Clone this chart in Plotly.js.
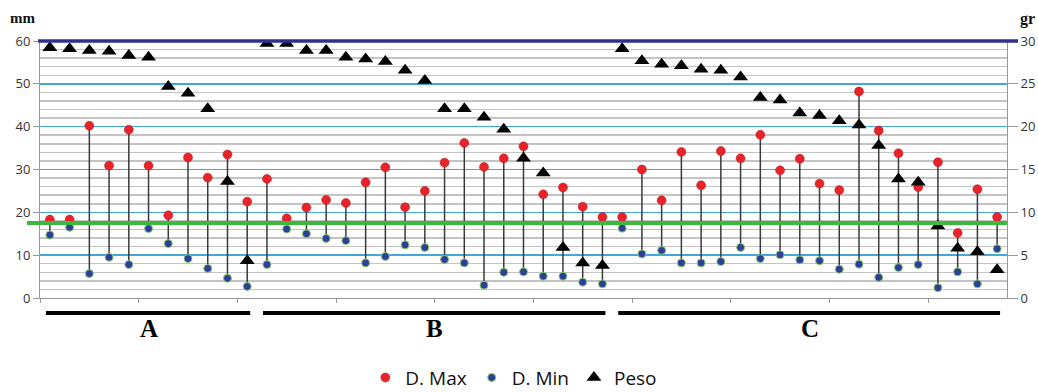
<!DOCTYPE html>
<html>
<head>
<meta charset="utf-8">
<script src="https://cdn.plot.ly/plotly-3.0.1.min.js"></script>
<style>
  html, body { margin: 0; padding: 0; background: #fff; }
  #chart { width: 1038px; height: 392px; }
</style>
</head>
<body>
<div id="chart"></div>
<script>
// ---- data ----
const groups = ['A', 'B', 'C'];
const groupSizes = [11, 18, 20];

// D. Max (mm)
const dMax = [
  18.3, 18.3, 40.2, 30.9, 39.3, 30.9, 19.3, 32.8, 28.1, 33.5, 22.5,
  27.8, 18.6, 21.1, 22.9, 22.2, 27.0, 30.5, 21.2, 25.0, 31.6, 36.2, 30.6, 32.6, 35.4, 24.2, 25.8, 21.3, 18.9,
  18.9, 30.0, 22.8, 34.1, 26.3, 34.3, 32.6, 38.1, 29.8, 32.5, 26.7, 25.2, 48.2, 39.1, 33.8, 25.9, 31.7, 15.2, 25.4, 18.9
];
// D. Min (mm)
const dMin = [
  14.7, 16.5, 5.7, 9.5, 7.8, 16.2, 12.7, 9.2, 6.9, 4.6, 2.7,
  7.8, 16.1, 15.0, 13.9, 13.4, 8.2, 9.7, 12.4, 11.8, 9.0, 8.2, 3.0, 6.0, 6.1, 5.1, 5.1, 3.7, 3.3,
  16.3, 10.3, 11.1, 8.2, 8.2, 8.5, 11.8, 9.2, 10.1, 8.9, 8.7, 6.7, 7.9, 4.8, 7.1, 7.8, 2.4, 6.1, 3.3, 11.5
];
// Peso (gr)
const peso = [
  29.2, 29.1, 28.9, 28.8, 28.3, 28.1, 24.7, 23.9, 22.1, 13.6, 4.35,
  29.7, 29.7, 28.9, 28.9, 28.1, 27.9, 27.6, 26.6, 25.4, 22.1, 22.1, 21.1, 19.7, 16.3, 14.6, 5.9, 4.1, 3.8,
  29.1, 27.7, 27.3, 27.1, 26.7, 26.6, 25.8, 23.4, 23.1, 21.6, 21.3, 20.7, 20.2, 17.8, 13.9, 13.5, 8.4, 5.8, 5.4, 3.3
];
const referenceLine = 17.5;   // mm (green line)
const seriesNames = ['D. Max', 'D. Min', 'Peso'];
const yLeftTicks = [0, 10, 20, 30, 40, 50, 60];
const yRightTicks = [0, 5, 10, 15, 20, 25, 30];

// ---- derived ----
const n = dMax.length;
const xs = dMax.map((_, i) => i);
const lx = [], ly = [];
xs.forEach(i => { lx.push(i, i, null); ly.push(dMin[i], dMax[i], null); });

const xTicks = [];
for (let k = 0; k < n; k += 5) xTicks.push(k - 0.5);

const traces = [
  { x: lx, y: ly, mode: 'lines', line: { color: '#3a3a3a', width: 1.5 },
    hoverinfo: 'skip', showlegend: false },
  { x: xs, y: dMax, mode: 'markers', name: seriesNames[0],
    marker: { color: '#e8232a', size: 9, line: { color: '#b01818', width: 0.5 } } },
  { x: xs, y: dMin, mode: 'markers', name: seriesNames[1],
    marker: { color: '#2c3f9c', size: 8, line: { color: '#8ccf6a', width: 1 } } },
  { x: xs, y: peso, mode: 'markers', name: seriesNames[2], yaxis: 'y2',
    marker: { color: '#000', size: 13, symbol: 'triangle-up' } }
];

const shapes = [
  { type: 'line', xref: 'paper', yref: 'y', x0: -0.0134, x1: 1.0, y0: referenceLine, y1: referenceLine,
    line: { color: '#3cb93c', width: 4 }, layer: 'above' },
  { type: 'line', xref: 'paper', yref: 'paper', x0: -0.002, x1: 1.0114, y0: 1, y1: 1,
    line: { color: '#2e3192', width: 3.5 }, layer: 'above' }
];
const annotations = [
  { text: '<b>mm</b>', xref: 'paper', yref: 'paper', x: -0.0186, y: 1.09, showarrow: false,
    xanchor: 'center', yanchor: 'middle', font: { family: 'Liberation Serif', size: 15, color: '#111' } },
  { text: '<b>gr</b>', xref: 'paper', yref: 'paper', x: 1.0217, y: 1.085, showarrow: false,
    xanchor: 'center', yanchor: 'middle', font: { family: 'Liberation Serif', size: 16, color: '#111' } }
];
let start = 0;
groups.forEach((g, gi) => {
  const end = start + groupSizes[gi] - 1;
  shapes.push({ type: 'line', xref: 'x', yref: 'paper', x0: start - 0.2, x1: end + 0.15,
    y0: -0.0584, y1: -0.0584, line: { color: '#000', width: 4 } });
  annotations.push({ text: '<b>' + g + '</b>', xref: 'x', yref: 'paper', x: (start + end) / 2,
    y: -0.118, showarrow: false, xanchor: 'center', yanchor: 'middle',
    font: { family: 'Liberation Serif', size: 25, color: '#000' } });
  start = end + 1;
});

const layout = {
  width: 1038, height: 392,
  margin: { l: 40, r: 31, t: 41, b: 94, autoexpand: false },
  paper_bgcolor: '#fff', plot_bgcolor: '#fff',
  showlegend: true,
  legend: { orientation: 'h', x: 0.49, xanchor: 'center', y: -0.31, yanchor: 'middle',
    font: { family: 'Open Sans', size: 19, color: '#111' }, itemwidth: 30, traceorder: 'normal' },
  xaxis: { range: [-0.5, n - 0.5], tickmode: 'array', tickvals: xTicks, ticks: 'outside',
    ticklen: 4, tickcolor: '#999', showticklabels: false, showgrid: false, zeroline: false,
    showline: true, linecolor: '#999', linewidth: 1 },
  yaxis: { range: [0, 60], tickmode: 'array', tickvals: yLeftTicks, ticks: 'outside', ticklen: 6,
    tickcolor: '#999', showline: true, linecolor: '#999', linewidth: 1, zeroline: false,
    gridcolor: '#45a5dd', gridwidth: 1.4,
    minor: { dtick: 2, showgrid: true, gridcolor: '#c4c4c4', gridwidth: 1.5, ticks: '' },
    tickfont: { family: 'Open Sans', size: 13, color: '#333' } },
  yaxis2: { range: [0, 30], overlaying: 'y', side: 'right', tickmode: 'array', tickvals: yRightTicks,
    ticks: 'outside', ticklen: 10, tickcolor: '#999', showline: true, linecolor: '#999', linewidth: 1,
    showgrid: false, zeroline: false, tickfont: { family: 'Open Sans', size: 13, color: '#333' } },
  shapes: shapes,
  annotations: annotations
};

Plotly.newPlot('chart', traces, layout, { displayModeBar: false, staticPlot: true });
</script>
</body>
</html>
